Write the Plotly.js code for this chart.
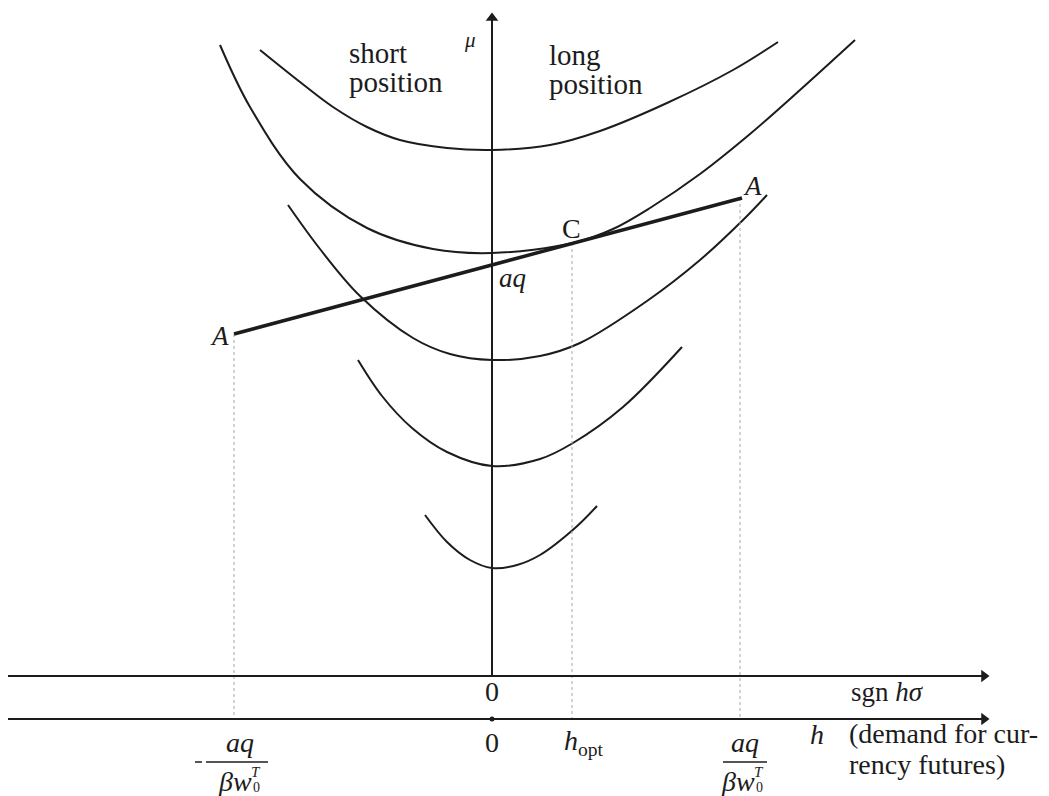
<!DOCTYPE html>
<html>
<head>
<meta charset="utf-8">
<script src="https://cdn.plot.ly/plotly-3.0.1.min.js"></script>
<style>
html,body{margin:0;padding:0;background:#ffffff;}
#chart{width:1049px;height:796px;}
</style>
</head>
<body>
<div id="chart"></div>
<script>
// Indifference curves (h·sigma on x, mu on y)
const curve1X = [-2.32, -1.92, -1.59, -1.25, -0.92, -0.45, 0, 0.58, 1.08, 1.75, 2.41, 2.86];
const curve1Y = [6.26, 5.94, 5.69, 5.49, 5.36, 5.28, 5.26, 5.31, 5.45, 5.73, 6.06, 6.34];
const curve2X = [-2.72, -2.42, -1.92, -1.25, -0.59, 0, 0.81, 1.21, 1.58, 2.08, 2.58, 3.08, 3.63];
const curve2Y = [6.31, 5.69, 4.97, 4.48, 4.27, 4.23, 4.33, 4.47, 4.68, 5.02, 5.42, 5.86, 6.36];
const curve3X = [-2.04, -1.72, -1.32, -0.79, -0.42, 0, 0.48, 0.88, 1.55, 2.08, 2.51, 2.75];
const curve3Y = [4.71, 4.27, 3.80, 3.38, 3.22, 3.16, 3.20, 3.33, 3.75, 4.16, 4.56, 4.81];
const curve4X = [-1.34, -1.10, -0.80, -0.45, 0, 0.48, 0.81, 1.31, 1.90];
const curve4Y = [3.16, 2.80, 2.48, 2.24, 2.10, 2.17, 2.33, 2.69, 3.29];
const curve5X = [-0.67, -0.45, -0.22, 0, 0.25, 0.48, 0.83, 1.05];
const curve5Y = [1.61, 1.34, 1.16, 1.08, 1.11, 1.21, 1.48, 1.70];

// Opportunity line A–A
const lineAX = [-2.58, 2.50];
const lineAY = [3.42, 4.78];

// Key h positions: -aq/(beta w0T), h_opt (point C), aq/(beta w0T)
const keyH = [-2.58, 0.80, 2.48];
const keyMu = [3.42, 4.33, 4.78];

// Axes
const muAxisTop = 6.64;
const axisLeft = -4.84;
const axisRight = 4.98;
const upperAxisY = 0;
const lowerAxisY = -0.43;

// Text
const muLabel = "<i>μ</i>";
const shortLabel = ["short", "position"];
const longLabel = ["long", "position"];
const pointA = "<i>A</i>";
const pointC = "C";
const aqLabel = "<i>aq</i>";
const zeroLabel = "0";
const sgnLabel = "sgn <i>hσ</i>";
const hoptLabel = "<i>h</i><sub>opt</sub>";
const hLabel = "<i>h</i>";
const demandLabel = ["(demand for cur-", "rency futures)"];
const fracNum = "<i>aq</i>";
const fracDen = "<i>βw</i>";
const fracSup = "<i>T</i>";
const fracSub = "0";

const ink = '#1c1c1c';
const serif = '"Liberation Serif", "DejaVu Serif", serif';

const curveLine = {color: ink, width: 2, shape: 'spline', smoothing: 1};
const traces = [];
[[curve1X, curve1Y], [curve2X, curve2Y], [curve3X, curve3Y], [curve4X, curve4Y], [curve5X, curve5Y]].forEach(c => {
  traces.push({x: c[0], y: c[1], mode: 'lines', line: curveLine, hoverinfo: 'skip'});
});
// dotted drop lines
keyH.forEach((h, i) => {
  traces.push({x: [h, h], y: [keyMu[i], lowerAxisY], mode: 'lines',
    line: {color: '#a8a8a8', width: 1, dash: 'dot'}, hoverinfo: 'skip'});
});
// line A-A
traces.push({x: lineAX, y: lineAY, mode: 'lines', line: {color: ink, width: 3.5}, hoverinfo: 'skip'});
// axes
traces.push({x: [0, 0], y: [upperAxisY, muAxisTop - 0.08], mode: 'lines', line: {color: ink, width: 2}, hoverinfo: 'skip'});
traces.push({x: [axisLeft, axisRight - 0.08], y: [upperAxisY, upperAxisY], mode: 'lines', line: {color: ink, width: 2}, hoverinfo: 'skip'});
traces.push({x: [axisLeft, axisRight - 0.08], y: [lowerAxisY, lowerAxisY], mode: 'lines', line: {color: ink, width: 2}, hoverinfo: 'skip'});
traces.push({x: [0], y: [lowerAxisY], mode: 'markers', marker: {color: ink, size: 5}, hoverinfo: 'skip'});
// arrow heads
traces.push({x: [0], y: [muAxisTop - 0.06], mode: 'markers',
  marker: {symbol: 'triangle-up', size: 11, color: ink}, hoverinfo: 'skip'});
traces.push({x: [axisRight - 0.06, axisRight - 0.06], y: [upperAxisY, lowerAxisY], mode: 'markers',
  marker: {symbol: 'triangle-right', size: 11, color: ink}, hoverinfo: 'skip'});

function txt(text, x, y, size, xanchor) {
  return {text: text, x: x, y: y, xref: 'x', yref: 'y', showarrow: false,
    xanchor: xanchor || 'center', yanchor: 'middle',
    font: {family: serif, size: size, color: ink}};
}

const annotations = [
  txt(muLabel, -0.22, 6.36, 21),
  txt(shortLabel[0], -1.45, 6.23, 29, 'left'),
  txt(shortLabel[1], -1.45, 5.94, 29, 'left'),
  txt(longLabel[0], 0.55, 6.21, 29, 'left'),
  txt(longLabel[1], 0.55, 5.92, 29, 'left'),
  txt(pointA, keyH[0] - 0.15, 3.40, 27),
  txt(pointA, keyH[2] + 0.12, 4.90, 27),
  txt(pointC, keyH[1] - 0.01, 4.48, 28),
  txt(aqLabel, 0.05, 3.98, 27, 'left'),
  txt(zeroLabel, 0, -0.15, 28),
  txt(sgnLabel, 3.95, -0.16, 27),
  txt(zeroLabel, 0, -0.66, 28),
  txt(hoptLabel, 0.70, -0.66, 28, 'left'),
  txt(hLabel, 3.25, -0.58, 28),
  txt(demandLabel[0], 3.55, -0.575, 28, 'left'),
  txt(demandLabel[1], 3.55, -0.885, 28, 'left'),
  // left fraction  -aq / (beta w0^T)
  txt(fracNum, -2.52, -0.66, 28),
  txt(fracDen, -2.57, -1.05, 28),
  txt(fracSup, -2.36, -0.96, 15),
  txt(fracSub, -2.36, -1.11, 14),
  // right fraction  aq / (beta w0^T)
  txt(fracNum, 2.53, -0.66, 28),
  txt(fracDen, 2.46, -1.05, 28),
  txt(fracSup, 2.67, -0.96, 15),
  txt(fracSub, 2.67, -1.11, 14)
];

const shapes = [
  {type: 'line', xref: 'x', yref: 'y', x0: -2.97, x1: -2.90, y0: -0.86, y1: -0.86, line: {color: ink, width: 1.5}},
  {type: 'line', xref: 'x', yref: 'y', x0: -2.86, x1: -2.24, y0: -0.86, y1: -0.86, line: {color: ink, width: 1.5}},
  {type: 'line', xref: 'x', yref: 'y', x0: 2.31, x1: 2.75, y0: -0.86, y1: -0.86, line: {color: ink, width: 1.5}}
];

const layout = {
  width: 1049, height: 796,
  margin: {l: 0, r: 0, t: 0, b: 0},
  paper_bgcolor: '#ffffff', plot_bgcolor: '#ffffff',
  showlegend: false, hovermode: false,
  xaxis: {range: [-4.92, 5.57], visible: false, fixedrange: true},
  yaxis: {range: [-1.20, 6.76], visible: false, fixedrange: true},
  annotations: annotations,
  shapes: shapes
};

Plotly.newPlot('chart', traces, layout, {displayModeBar: false, staticPlot: true});
</script>
</body>
</html>
